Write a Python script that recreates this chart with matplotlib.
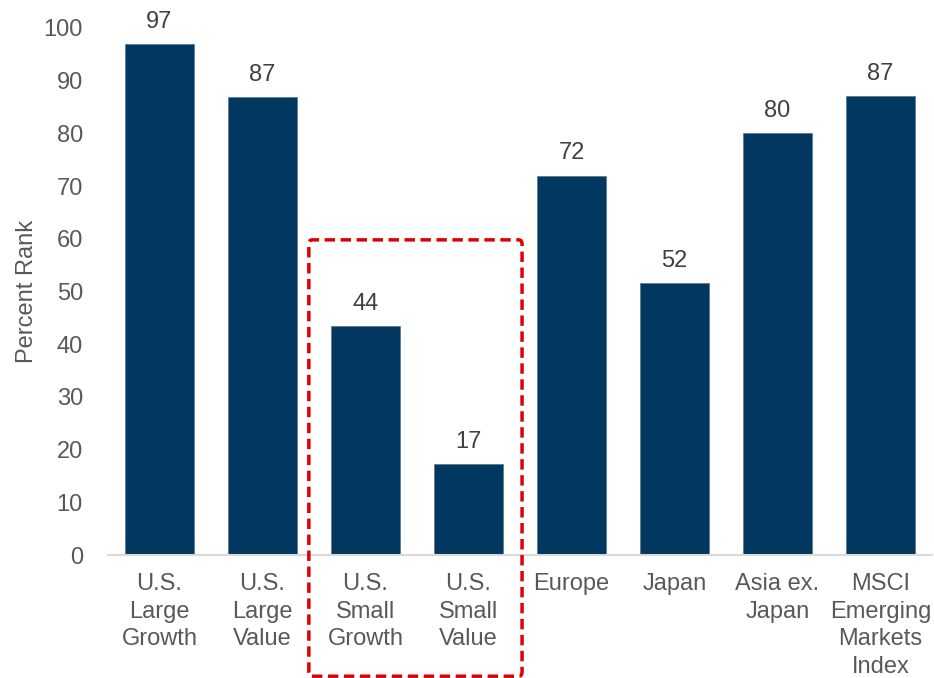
import matplotlib.pyplot as plt
from matplotlib.patches import FancyBboxPatch

categories = ["U.S.\nLarge\nGrowth", "U.S.\nLarge\nValue", "U.S.\nSmall\nGrowth", "U.S.\nSmall\nValue",
              "Europe", "Japan", "Asia ex.\nJapan", "MSCI\nEmerging\nMarkets\nIndex"]
values = [97.0, 86.9, 43.5, 17.2, 72.0, 51.6, 80.0, 87.1]
labels = ["97", "87", "44", "17", "72", "52", "80", "87"]

plt.rcParams["font.family"] = ["Liberation Sans", "DejaVu Sans"]

bar_color = "#02375f"
text_color = "#595959"
fs = 17

fig = plt.figure(figsize=(9.34, 6.78), dpi=100)
ax = fig.add_axes([108 / 934, 1 - 555 / 678, 824 / 934, 527 / 678])

x = list(range(len(categories)))
ax.bar(x, values, width=0.67, color=bar_color, edgecolor="#5a7b99", linewidth=0.6, zorder=2)
for xi, v, lab in zip(x, values, labels):
    ax.text(xi, v + 2.1, lab, ha="center", va="bottom", fontsize=fs, color="#404040")

ax.set_xlim(-0.5, len(categories) - 0.5)
ax.set_ylim(0, 100)
ax.set_yticks(range(0, 101, 10))
ax.set_xticks(x)
ax.set_xticklabels(categories, fontsize=fs, color=text_color, linespacing=1.33)
ax.tick_params(axis="y", labelsize=fs, labelcolor=text_color, length=0, pad=18)
ax.tick_params(axis="x", length=0, pad=13)
ax.set_ylabel("Percent Rank", fontsize=fs, color=text_color, labelpad=4)

for side in ["top", "right", "left"]:
    ax.spines[side].set_visible(False)
ax.spines["bottom"].set_color("#d9d9d9")
ax.spines["bottom"].set_linewidth(1.5)

# dashed highlight around small-cap bars
box = FancyBboxPatch((1.45, -23), 2.07, 82.8, boxstyle="round,pad=0,rounding_size=0.03",
                     fill=False, edgecolor="#e00000", linewidth=2.5, linestyle=(0, (3, 1.6)),
                     clip_on=False, zorder=3, mutation_aspect=30)
ax.add_patch(box)

fig.savefig("out.png", dpi=100)
